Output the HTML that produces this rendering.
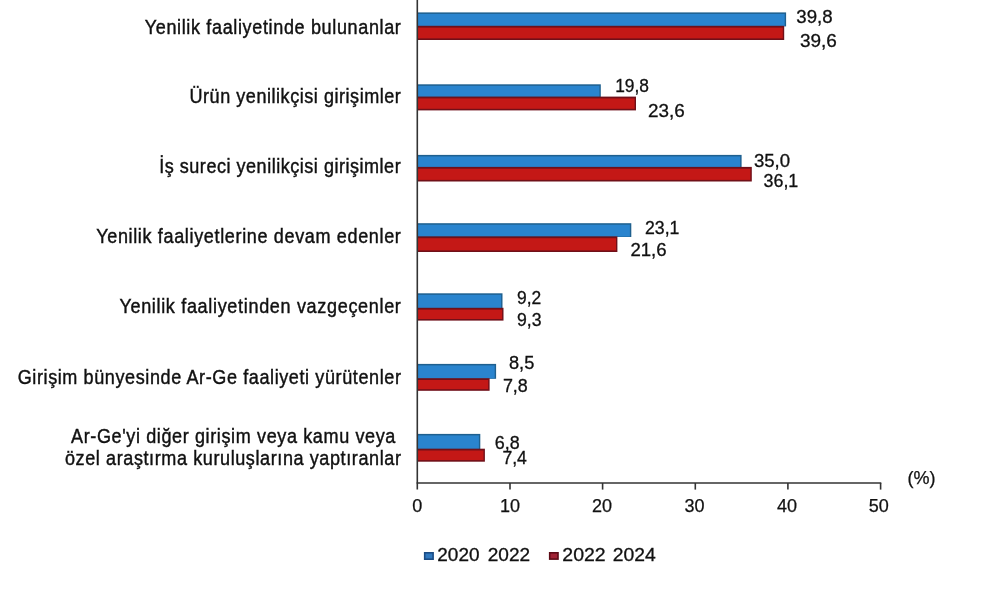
<!DOCTYPE html>
<html lang="tr">
<head>
<meta charset="utf-8">
<title>Yenilik faaliyetleri</title>
<style>
html,body{margin:0;padding:0;background:#fff;}
body{width:1000px;height:593px;overflow:hidden;font-family:"Liberation Sans",Arial,sans-serif;}
svg{display:block;}
text{font-family:"Liberation Sans",Arial,sans-serif;fill:#111;}
.lab{font-size:21px;stroke:#111;stroke-width:0.45px;}
.val{font-size:17.5px;stroke:#111;stroke-width:0.3px;}
.tick{font-size:18px;stroke:#111;stroke-width:0.25px;}
.leg{font-size:18.4px;stroke:#111;stroke-width:0.3px;}
</style>
</head>
<body>
<svg width="1000" height="593" viewBox="0 0 1000 593">
<rect x="0" y="0" width="1000" height="593" fill="#ffffff"/>

<rect x="417.3" y="12.4" width="368.8" height="14.0" fill="#1f608f"/>
<rect x="417.9" y="13.9" width="366.8" height="12.1" fill="#2a84ce"/>
<rect x="417.3" y="25.8" width="366.9" height="14.2" fill="#701019"/>
<rect x="417.9" y="27.6" width="364.9" height="10.8" fill="#c41816"/>
<rect x="417.3" y="84.3" width="183.5" height="12.9" fill="#1f608f"/>
<rect x="417.9" y="85.8" width="181.5" height="11.0" fill="#2a84ce"/>
<rect x="417.3" y="96.6" width="218.7" height="13.8" fill="#701019"/>
<rect x="417.9" y="98.4" width="216.7" height="10.4" fill="#c41816"/>
<rect x="417.3" y="154.9" width="324.3" height="12.6" fill="#1f608f"/>
<rect x="417.9" y="156.4" width="322.3" height="10.7" fill="#2a84ce"/>
<rect x="417.3" y="166.9" width="334.5" height="14.6" fill="#701019"/>
<rect x="417.9" y="168.7" width="332.5" height="11.2" fill="#c41816"/>
<rect x="417.3" y="223.2" width="214.0" height="13.8" fill="#1f608f"/>
<rect x="417.9" y="224.7" width="212.0" height="11.9" fill="#2a84ce"/>
<rect x="417.3" y="236.4" width="200.1" height="15.6" fill="#701019"/>
<rect x="417.9" y="238.2" width="198.1" height="12.2" fill="#c41816"/>
<rect x="417.3" y="293.3" width="85.2" height="15.1" fill="#1f608f"/>
<rect x="417.9" y="294.8" width="83.2" height="13.2" fill="#2a84ce"/>
<rect x="417.3" y="307.8" width="86.2" height="12.8" fill="#701019"/>
<rect x="417.9" y="309.6" width="84.2" height="9.4" fill="#c41816"/>
<rect x="417.3" y="363.9" width="78.8" height="14.9" fill="#1f608f"/>
<rect x="417.9" y="365.4" width="76.8" height="13.0" fill="#2a84ce"/>
<rect x="417.3" y="378.2" width="72.3" height="12.6" fill="#701019"/>
<rect x="417.9" y="380.0" width="70.3" height="9.2" fill="#c41816"/>
<rect x="417.3" y="433.9" width="63.0" height="15.4" fill="#1f608f"/>
<rect x="417.9" y="435.4" width="61.0" height="13.5" fill="#2a84ce"/>
<rect x="417.3" y="448.7" width="67.6" height="13.0" fill="#701019"/>
<rect x="417.9" y="450.5" width="65.6" height="9.6" fill="#c41816"/>
<line x1="417.3" y1="0" x2="417.3" y2="489.6" stroke="#333" stroke-width="1.6"/>
<line x1="416.6" y1="483" x2="881.3" y2="483" stroke="#333" stroke-width="1.6"/>
<line x1="510.0" y1="483" x2="510.0" y2="489.6" stroke="#333" stroke-width="1.6"/>
<line x1="602.6" y1="483" x2="602.6" y2="489.6" stroke="#333" stroke-width="1.6"/>
<line x1="695.3" y1="483" x2="695.3" y2="489.6" stroke="#333" stroke-width="1.6"/>
<line x1="787.9" y1="483" x2="787.9" y2="489.6" stroke="#333" stroke-width="1.6"/>
<line x1="880.6" y1="483" x2="880.6" y2="489.6" stroke="#333" stroke-width="1.6"/>
<text class="tick" x="417.3" y="511.5" text-anchor="middle">0</text>
<text class="tick" x="510.0" y="511.5" text-anchor="middle">10</text>
<text class="tick" x="602.0" y="511.5" text-anchor="middle">20</text>
<text class="tick" x="694.4" y="511.5" text-anchor="middle">30</text>
<text class="tick" x="787.1" y="511.5" text-anchor="middle">40</text>
<text class="tick" x="878.8" y="511.5" text-anchor="middle">50</text>
<text class="tick" x="907.5" y="484" >(%)</text>
<text class="val" x="796.3" y="23.3" textLength="36.3" lengthAdjust="spacingAndGlyphs">39,8</text>
<text class="val" x="615.2" y="91.8" textLength="33.8" lengthAdjust="spacingAndGlyphs">19,8</text>
<text class="val" x="753.9" y="166.8" textLength="36.2" lengthAdjust="spacingAndGlyphs">35,0</text>
<text class="val" x="645.0" y="233.8" textLength="34.4" lengthAdjust="spacingAndGlyphs">23,1</text>
<text class="val" x="517.0" y="303.8" textLength="24.2" lengthAdjust="spacingAndGlyphs">9,2</text>
<text class="val" x="509.0" y="369.4" textLength="25.3" lengthAdjust="spacingAndGlyphs">8,5</text>
<text class="val" x="494.8" y="448.5" textLength="24.9" lengthAdjust="spacingAndGlyphs">6,8</text>
<text class="val" x="799.9" y="46.6" textLength="36.9" lengthAdjust="spacingAndGlyphs">39,6</text>
<text class="val" x="648.1" y="117.0" textLength="36.7" lengthAdjust="spacingAndGlyphs">23,6</text>
<text class="val" x="763.5" y="187.1" textLength="34.8" lengthAdjust="spacingAndGlyphs">36,1</text>
<text class="val" x="630.4" y="255.5" textLength="36.2" lengthAdjust="spacingAndGlyphs">21,6</text>
<text class="val" x="517.0" y="325.5" textLength="24.5" lengthAdjust="spacingAndGlyphs">9,3</text>
<text class="val" x="502.9" y="391.5" textLength="24.9" lengthAdjust="spacingAndGlyphs">7,8</text>
<text class="val" x="502.4" y="464.1" textLength="24.5" lengthAdjust="spacingAndGlyphs">7,4</text>
<text class="lab" transform="translate(144.7,34.0) scale(0.86,1)" textLength="297.9" lengthAdjust="spacing">Yenilik faaliyetinde bulunanlar</text>
<text class="lab" transform="translate(189.5,102.9) scale(0.86,1)" textLength="245.8" lengthAdjust="spacing">Ürün yenilikçisi girişimler</text>
<text class="lab" transform="translate(159.2,172.9) scale(0.86,1)" textLength="280.8" lengthAdjust="spacing">İş sureci yenilikçisi girişimler</text>
<text class="lab" transform="translate(96.2,242.6) scale(0.86,1)" textLength="354.3" lengthAdjust="spacing">Yenilik faaliyetlerine devam edenler</text>
<text class="lab" transform="translate(119.4,313.3) scale(0.86,1)" textLength="327.3" lengthAdjust="spacing">Yenilik faaliyetinden vazgeçenler</text>
<text class="lab" transform="translate(17.7,383.5) scale(0.86,1)" textLength="445.6" lengthAdjust="spacing">Girişim bünyesinde Ar-Ge faaliyeti yürütenler</text>
<text class="lab" transform="translate(71.0,442.6) scale(0.86,1)" textLength="377.2" lengthAdjust="spacing">Ar-Ge'yi diğer girişim veya kamu veya</text>
<text class="lab" transform="translate(65.0,464.8) scale(0.86,1)" textLength="390.6" lengthAdjust="spacing">özel araştırma kuruluşlarına yaptıranlar</text>
<rect x="423.9" y="552" width="10" height="8" fill="#1b4c84"/><rect x="425.5" y="553.6" width="6.8" height="4.8" fill="#3078be"/>
<text class="leg" x="437.3" y="561.2" textLength="42.2" lengthAdjust="spacingAndGlyphs">2020</text><text class="leg" x="487.7" y="561.2" textLength="42.4" lengthAdjust="spacingAndGlyphs">2022</text>
<rect x="548.9" y="552" width="9.9" height="7.9" fill="#5c0b16"/><rect x="550.5" y="553.6" width="6.7" height="4.7" fill="#a02234"/>
<text class="leg" x="562.3" y="561.4" textLength="43.4" lengthAdjust="spacingAndGlyphs">2022</text><text class="leg" x="612.7" y="561.4" textLength="43.0" lengthAdjust="spacingAndGlyphs">2024</text>
</svg>
</body>
</html>
